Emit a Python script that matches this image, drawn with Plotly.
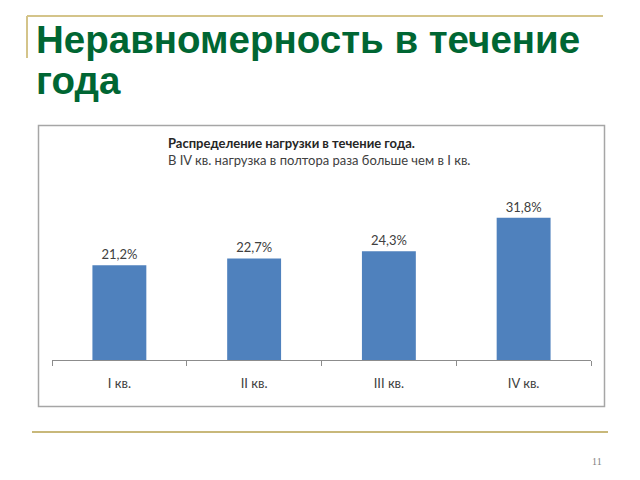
import plotly.graph_objects as go

categories = ["I кв.", "II кв.", "III кв.", "IV кв."]
values = [21.2, 22.7, 24.3, 31.8]
value_labels = ["21,2%", "22,7%", "24,3%", "31,8%"]

W, H = 640, 480
L, R, T, B = 52, 49, 181, 120
PW, PH = W - L - R, H - T - B

fig = go.Figure()
fig.add_trace(go.Bar(
    x=categories, y=values, text=value_labels, textposition="outside",
    textfont=dict(family="Lato", size=13, color="#404040"),
    marker=dict(color="#4F81BD", line=dict(width=0)),
    width=0.4, cliponaxis=False,
))

fig.update_layout(
    width=W, height=H, paper_bgcolor="white", plot_bgcolor="white",
    margin=dict(l=L, r=R, t=T, b=B),
    showlegend=False,
    xaxis=dict(showline=True, linecolor="#8C8C8C", linewidth=1,
               ticks="outside", ticklen=5, tickcolor="#8C8C8C", tickson="boundaries",
               ticklabelstandoff=11,
               tickfont=dict(family="Lato", size=13, color="#404040"),
               showgrid=False, fixedrange=True),
    yaxis=dict(range=[0, 40], visible=False, fixedrange=True),
)

def px_x(x):
    return (x - L) / PW

def px_y(y):
    return (H - B - y) / PH

shapes = []
shapes.append(dict(type="line", xref="paper", yref="paper", x0=px_x(27), x1=px_x(603), y0=px_y(16), y1=px_y(16),
                   line=dict(color="#D4C48A", width=2)))
shapes.append(dict(type="line", xref="paper", yref="paper", x0=px_x(27), x1=px_x(27), y0=px_y(16), y1=px_y(58),
                   line=dict(color="#D4C48A", width=2)))
shapes.append(dict(type="line", xref="paper", yref="paper", x0=px_x(32), x1=px_x(608), y0=px_y(432), y1=px_y(432),
                   line=dict(color="#C8B87A", width=2)))
shapes.append(dict(type="rect", xref="paper", yref="paper", x0=px_x(38.5), x1=px_x(604.5), y0=px_y(125.5), y1=px_y(406.5),
                   line=dict(color="#A6A6A6", width=1.5), fillcolor="rgba(0,0,0,0)", layer="below"))
fig.update_layout(shapes=shapes)

ann = []
ann.append(dict(text="<b>Неравномерность в течение</b>", xref="paper", yref="paper",
                x=px_x(34), y=px_y(63), xanchor="left", yanchor="bottom", align="left", showarrow=False,
                font=dict(family="Liberation Sans", size=38.5, color="#006633")))
ann.append(dict(text="<b>года</b>", xref="paper", yref="paper",
                x=px_x(34), y=px_y(104), xanchor="left", yanchor="bottom", align="left", showarrow=False,
                font=dict(family="Liberation Sans", size=38.5, color="#006633")))
ann.append(dict(text="<b>Распределение нагрузки в течение года.</b>", xref="paper", yref="paper",
                x=px_x(166), y=px_y(143), xanchor="left", yanchor="middle", showarrow=False,
                font=dict(family="Lato", size=13, color="#262626")))
ann.append(dict(text="В IV кв. нагрузка в полтора раза больше чем в I кв.", xref="paper", yref="paper",
                x=px_x(166), y=px_y(160), xanchor="left", yanchor="middle", showarrow=False,
                font=dict(family="Lato", size=13, color="#404040")))
ann.append(dict(text="11", xref="paper", yref="paper",
                x=px_x(597), y=px_y(461), xanchor="center", yanchor="middle", showarrow=False,
                font=dict(family="Liberation Serif", size=10, color="#7F7F7F")))
fig.update_layout(annotations=ann)

fig.write_html("out.html")
